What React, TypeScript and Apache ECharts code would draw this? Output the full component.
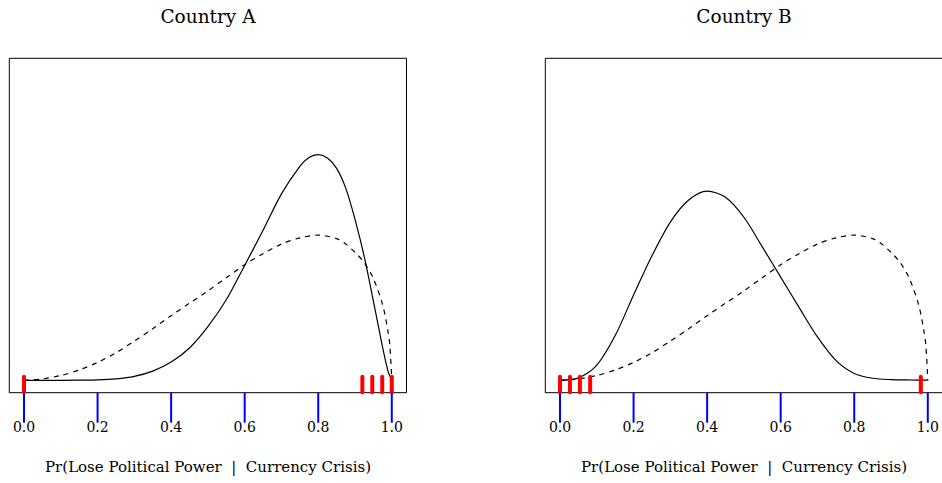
import React, { useEffect, useRef } from "react";
import * as echarts from "echarts";

// ---- Data ----
const tickValues = [0, 0.2, 0.4, 0.6, 0.8, 1.0];
const panelTitles = ["Country A", "Country B"];
const axisTitle = "Pr(Lose Political Power  |  Currency Crisis)";

// Country A posterior (solid)
const solidAX = [0, 0.05, 0.1, 0.15, 0.2, 0.25, 0.3, 0.35, 0.4, 0.45, 0.5, 0.55, 0.6, 0.65, 0.7, 0.75, 0.775, 0.8, 0.825, 0.85, 0.875, 0.9, 0.925, 0.95, 0.975, 0.99, 1];
const solidAY = [0, 0, 0, 0.003, 0.007, 0.022, 0.058, 0.134, 0.265, 0.47, 0.78, 1.17, 1.67, 2.18, 2.71, 3.11, 3.24, 3.28, 3.23, 3.08, 2.79, 2.34, 1.8, 1.15, 0.48, 0.13, 0];

// Prior (dashed), same in both panels
const priorX = [0, 0.05, 0.1, 0.15, 0.2, 0.25, 0.3, 0.35, 0.4, 0.45, 0.5, 0.55, 0.6, 0.65, 0.7, 0.75, 0.8, 0.85, 0.875, 0.9, 0.925, 0.95, 0.975, 0.99, 0.995, 1];
const priorY = [0, 0.02, 0.07, 0.15, 0.26, 0.4, 0.57, 0.75, 0.94, 1.12, 1.3, 1.49, 1.68, 1.84, 1.98, 2.07, 2.11, 2.06, 1.98, 1.86, 1.71, 1.48, 1.1, 0.7, 0.49, 0];

// Country B posterior (solid)
const solidBX = [0, 0.05, 0.1, 0.15, 0.2, 0.25, 0.3, 0.35, 0.4, 0.45, 0.5, 0.55, 0.6, 0.65, 0.7, 0.75, 0.8, 0.85, 0.9, 0.95, 1];
const solidBY = [0, 0.035, 0.22, 0.65, 1.24, 1.81, 2.3, 2.62, 2.75, 2.66, 2.37, 1.94, 1.5, 1.06, 0.63, 0.29, 0.1, 0.03, 0.01, 0.005, 0.003];

// Observations (rug)
const rugA = [0, 0.92, 0.947, 0.974, 1.0];
const rugB = [0, 0.027, 0.054, 0.082, 0.981];

const FONT = "'DejaVu Serif', serif";
const zip = (xs: number[], ys: number[]) => xs.map((x, i) => [x, ys[i]]);

export default function App() {
  const ref = useRef<HTMLDivElement>(null);
  useEffect(() => {
    if (!ref.current) return;
    const chart = echarts.init(ref.current, null, { renderer: "svg" });
    const grids = [
      { left: 9.3, top: 58.3, width: 397.2, height: 334.4 },
      { left: 545.3, top: 58.3, width: 397.2, height: 334.4 },
    ];
    const centers = [208, 744];
    const xAxis = grids.map((_, i) => ({
      type: "value",
      gridIndex: i,
      position: "bottom",
      min: -0.04,
      max: 1.04,
      axisLine: { show: false, onZero: false },
      splitLine: { show: false },
      axisTick: { show: false },
      axisLabel: {
        show: true,
        customValues: tickValues,
        formatter: (v: number) => v.toFixed(1),
        color: "#000",
        fontFamily: FONT,
        fontSize: 14,
        margin: 27,
      },
    }));
    const yAxis = grids.map((_, i) => ({
      type: "value",
      gridIndex: i,
      min: -0.18,
      max: 4.68,
      show: false,
    }));
    const lineSeries = (data: number[][], idx: number, dashed: boolean) => ({
      type: "line",
      xAxisIndex: idx,
      yAxisIndex: idx,
      data,
      showSymbol: false,
      symbol: "none",
      smooth: 0.3,
      lineStyle: { color: "#000", width: 1.2, type: dashed ? [5, 5] : "solid" },
      z: 2,
    });
    const rugSeries = (vals: number[], idx: number) => ({
      type: "custom",
      xAxisIndex: idx,
      yAxisIndex: idx,
      data: vals.map((v) => [v, 0]),
      z: 5,
      renderItem: (params: any, api: any) => {
        const x = api.coord([api.value(0), 0])[0];
        const cs = params.coordSys;
        const bottom = cs.y + cs.height;
        return {
          type: "line",
          shape: { x1: x, y1: bottom - 0.5, x2: x, y2: bottom - 16 },
          style: { stroke: "#ff0000", lineWidth: 4, lineCap: "round" },
        };
      },
    });
    const graphic: any[] = [];
    centers.forEach((cx, i) => {
      graphic.push({
        type: "text",
        x: cx,
        y: 16,
        style: {
          text: panelTitles[i],
          align: "center",
          verticalAlign: "middle",
          font: `18.5px ${FONT}`,
          fill: "#000",
        },
      });
      graphic.push({
        type: "text",
        x: cx,
        y: 467,
        style: {
          text: axisTitle,
          align: "center",
          verticalAlign: "middle",
          font: `15px ${FONT}`,
          fill: "#000",
        },
      });
    });
    // tick marks below each box (R style), placed through the axis scale
    grids.forEach((g) => {
      const scaleX = (v: number) => g.left + ((v - -0.04) / (1.04 - -0.04)) * g.width;
      const bottom = g.top + g.height;
      tickValues.forEach((v) => {
        graphic.push({
          type: "line",
          silent: true,
          z: 100,
          shape: { x1: scaleX(v), y1: bottom, x2: scaleX(v), y2: bottom + 30 },
          style: { stroke: "#0000ff", lineWidth: 2 },
        });
      });
    });
    chart.setOption({
      animation: false,
      backgroundColor: "#fff",
      grid: grids.map((g) => ({ ...g, show: true, borderColor: "#000", borderWidth: 1, backgroundColor: "transparent" })),
      xAxis,
      yAxis,
      graphic: { elements: graphic },
      series: [
        lineSeries(zip(solidAX, solidAY), 0, false),
        lineSeries(zip(priorX, priorY), 0, true),
        rugSeries(rugA, 0),
        lineSeries(zip(solidBX, solidBY), 1, false),
        lineSeries(zip(priorX, priorY), 1, true),
        rugSeries(rugB, 1),
      ],
    });
    return () => chart.dispose();
  }, []);
  return (
    <div style={{ position: "absolute", left: 0, top: 0, width: 942, height: 483, overflow: "hidden", background: "#fff" }}>
      <div ref={ref} style={{ width: 960, height: 483 }} />
    </div>
  );
}
